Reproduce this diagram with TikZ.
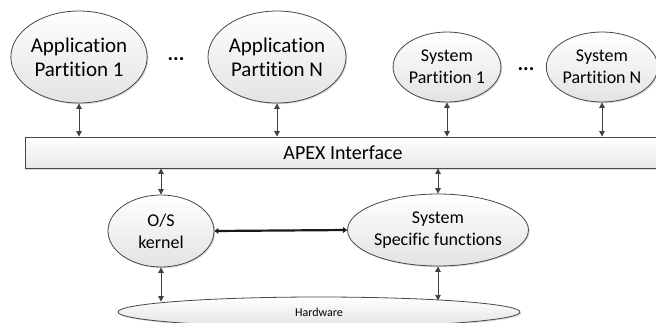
\documentclass[tikz,border=0pt]{standalone}
\usepackage{fontspec}
\setmainfont[Ligatures={NoCommon}]{Carlito}
\usetikzlibrary{shapes.geometric,arrows.meta,shadows}
\begin{document}
\begin{tikzpicture}[x=1pt,y=-1pt,
  ell/.style={ellipse,draw=black!72,line width=0.8pt,top color=white,bottom color=black!11,
    inner sep=0pt,align=center,
    drop shadow={shadow xshift=1.2pt,shadow yshift=-1.2pt,opacity=0.25,fill=black!60}},
  bigtxt/.style={font=\fontsize{21}{24}\selectfont},
  smtxt/.style={font=\fontsize{18}{22}\selectfont},
  dots/.style={font=\fontsize{21}{24}\bfseries\selectfont},
  barbox/.style={rectangle,draw=black!72,line width=0.8pt,top color=white,bottom color=black!9,
    inner sep=0pt,font=\fontsize{20}{24}\selectfont,
    drop shadow={shadow xshift=0pt,shadow yshift=-1.5pt,opacity=0.25,fill=black!60}},
  arr/.style={{Triangle[length=5.5pt,width=5.5pt]}-{Triangle[length=5.5pt,width=5.5pt]},draw=black!75,line width=0.8pt},
  thk/.style={{Triangle[length=4pt,width=5.5pt]}-{Triangle[length=4pt,width=5.5pt]},draw=black!90,line width=2.2pt}
]
\useasboundingbox (0,0) rectangle (656,322);
\clip (0,0) rectangle (656,322);

% APEX bar
\node[barbox,minimum width=636pt,minimum height=31pt] (bar) at (343,152.5) {APEX Interface};

% top partitions
\node[ell,bigtxt,minimum width=136pt,minimum height=92pt] (a1) at (79,57) {Application\\Partition 1};
\node[dots] (d1) at (176,59) {...};
\node[ell,bigtxt,minimum width=138pt,minimum height=92pt] (an) at (277,57) {Application\\Partition N};
\node[ell,smtxt,minimum width=104pt,minimum height=70pt] (s1) at (447,67) {System\\Partition 1};
\node[dots] (d2) at (526,69) {...};
\node[ell,smtxt,minimum width=104pt,minimum height=70pt] (sn) at (602,67) {System\\Partition N};

% middle
\node[ell,smtxt,minimum width=106pt,minimum height=72pt] (k) at (161,231) {O/S\\kernel};
\node[ell,smtxt,minimum width=180pt,minimum height=72pt] (ssf) at (438,230) {System\\Specific functions};

% hardware
\node[ell,font=\fontsize{12}{14}\selectfont,minimum width=402pt,minimum height=30pt] (hw) at (319,312) {Hardware};

% arrows partitions <-> bar
\draw[arr] (a1.south) -- (a1.south |- bar.north);
\draw[arr] (an.south) -- (an.south |- bar.north);
\draw[arr] (s1.south) -- (s1.south |- bar.north);
\draw[arr] (sn.south) -- (sn.south |- bar.north);

% bar <-> middle
\draw[arr] (k.north |- bar.south) -- (k.north);
\draw[arr] (ssf.north |- bar.south) -- (ssf.north);

% kernel <-> ssf
\draw[thk] (k.east) -- (ssf.west);

% middle <-> hardware
\draw[arr] (k.south) -- (k.south |- hw.176.6);
\draw[arr] (ssf.south) -- (ssf.south |- hw.5.8);
\end{tikzpicture}
\end{document}
